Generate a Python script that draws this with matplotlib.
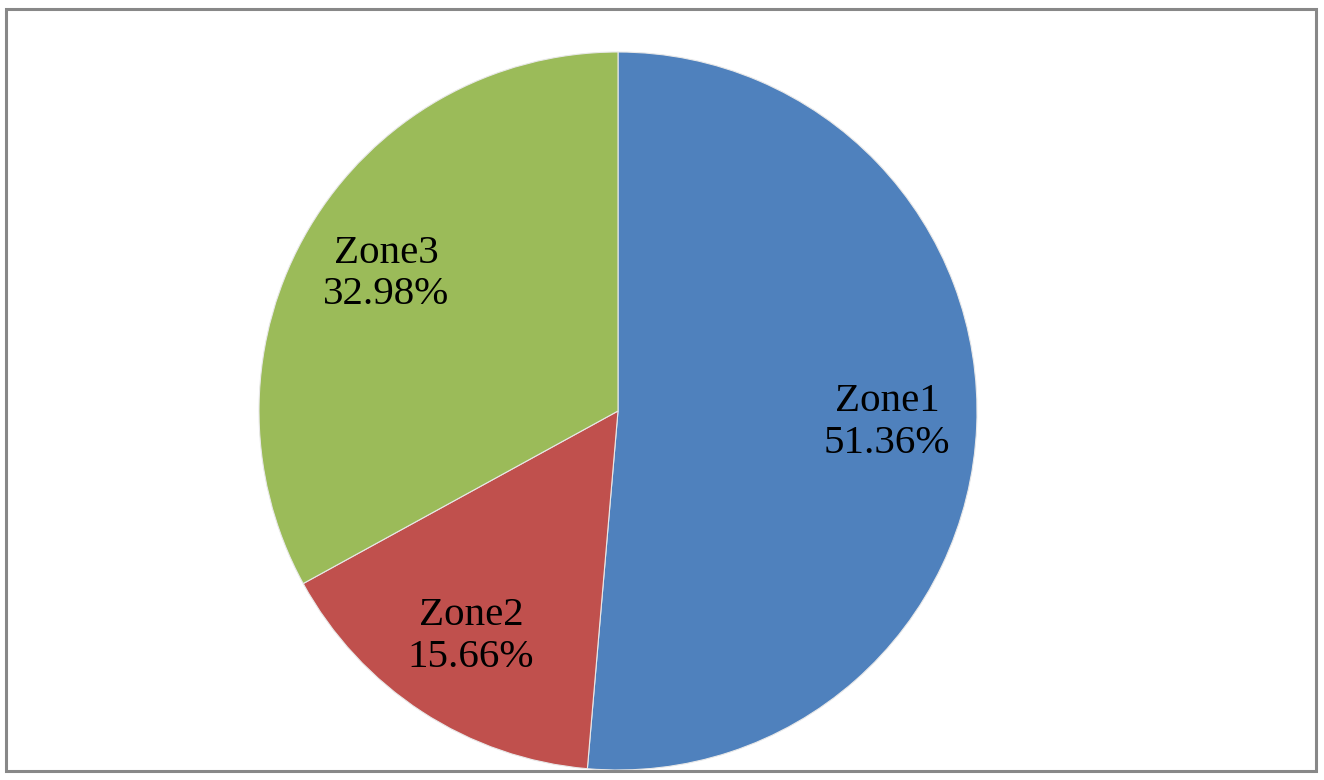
import matplotlib.pyplot as plt
from matplotlib.patches import Rectangle

zones = ['Zone1', 'Zone2', 'Zone3']
shares = [51.36, 15.66, 32.98]
colors = ['#4F81BD', '#C0504D', '#9BBB59']

W, H = 1324, 780
fig = plt.figure(figsize=(W / 100, H / 100), dpi=100)

# gray frame around the chart area
fig.add_artist(Rectangle((5.5 / W, 1 - 770.5 / H), (1316 - 5.5) / W, (770.5 - 8.5) / H,
                         transform=fig.transFigure, fill=False,
                         edgecolor='#888888', linewidth=2.2))

cx, cy, r = 618, 411, 359
ax = fig.add_axes([(cx - r) / W, (H - cy - r) / H, 2 * r / W, 2 * r / H])

labels = [f'{z}\n{s:.2f}%' for z, s in zip(zones, shares)]
wedges, texts = ax.pie(shares, labels=labels, colors=colors, startangle=90,
                       counterclock=False, labeldistance=0.75,
                       wedgeprops={'linewidth': 0.8, 'edgecolor': '#e8e8e8'},
                       textprops={'fontfamily': 'Liberation Serif', 'fontsize': 29.5})
for t in texts:
    t.set_ha('center')
    t.set_va('center')
    t.set_linespacing(1.15)

ax.set_xlim(-1, 1)
ax.set_ylim(-1, 1)

plt.savefig('out.png', dpi=100)
